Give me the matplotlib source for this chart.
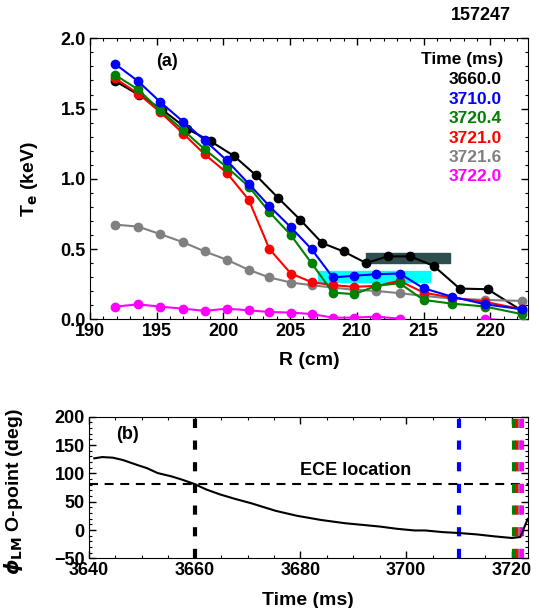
import matplotlib
matplotlib.use('Agg')
import matplotlib.pyplot as plt
from matplotlib.ticker import MultipleLocator, FormatStrFormatter
from matplotlib.patches import Rectangle

plt.rcParams['font.family'] = ['Liberation Sans', 'DejaVu Sans']
plt.rcParams['font.weight'] = 'bold'
plt.rcParams['axes.labelweight'] = 'bold'

# ---- panel (a): Te profiles ----
times = ['3660.0', '3710.0', '3720.4', '3721.0', '3721.6', '3722.0']
colors = ['black', 'blue', 'green', 'red', 'gray', 'magenta']

R_3660 = [191.9, 193.7, 195.4, 197.25, 199.05, 200.8, 202.45, 204.1, 205.75,
          207.4, 209.0, 210.7, 212.3, 214.0, 215.75, 217.7, 219.8, 222.4]
R_late = [191.9, 193.6, 195.25, 197.0, 198.6, 200.25, 201.9, 203.45, 205.05,
          206.6, 208.2, 209.8, 211.45, 213.2, 215.0, 217.1, 219.6, 222.4]

te_3660 = [1.695, 1.595, 1.493, 1.357, 1.267, 1.162, 1.024, 0.864, 0.709,
           0.543, 0.483, 0.40, 0.448, 0.448, 0.381, 0.219, 0.214, 0.06]
te_3710 = [1.816, 1.695, 1.548, 1.405, 1.274, 1.131, 0.964, 0.805, 0.655,
           0.50, 0.298, 0.31, 0.321, 0.326, 0.221, 0.162, 0.107, 0.071]
te_3720_4 = [1.738, 1.636, 1.488, 1.345, 1.21, 1.083, 0.945, 0.762, 0.60,
             0.40, 0.19, 0.179, 0.238, 0.257, 0.138, 0.112, 0.091, 0.036]
te_3721_0 = [1.714, 1.607, 1.476, 1.321, 1.174, 1.043, 0.85, 0.50, 0.326,
             0.265, 0.243, 0.231, 0.238, 0.274, 0.19, 0.155, 0.124, 0.071]
te_3721_6 = [0.674, 0.66, 0.607, 0.548, 0.483, 0.424, 0.352, 0.298, 0.262,
             0.243, 0.226, 0.21, 0.202, 0.186, 0.167, 0.148, 0.138, 0.131]
te_3722_0 = [0.09, 0.107, 0.09, 0.076, 0.06, 0.076, 0.064, 0.052, 0.048,
             0.038, 0.012, 0.012, 0.019, 0.005, -0.1, -0.1, 0.005, -0.02]

# island boxes (R range, Te range)
box_dark = (210.7, 217.0, 0.40, 0.47)
box_cyan = (207.05, 215.5, 0.266, 0.341)

# ---- panel (b): O-point phase ----
t_ms = [3641.0, 3642.5, 3644.5, 3646.4, 3649.1, 3651.0, 3653.0, 3655.6, 3657.6,
        3659.9, 3662.2, 3664.8, 3667.5, 3670.7, 3675.3, 3679.3, 3683.9, 3688.5,
        3691.8, 3695.0, 3698.3, 3701.6, 3703.6, 3706.9, 3710.1, 3713.4, 3716.7,
        3720.0, 3721.6, 3723.0]
phi_deg = [126.5, 128.8, 127.7, 123.6, 114.9, 109.1, 100.5, 94.7, 88.9,
           81.4, 71.5, 62.8, 55.3, 47.2, 33.9, 25.2, 17.7, 11.9,
           9.0, 6.1, 2.1, -0.8, -0.8, -3.7, -5.4, -7.8, -11.2,
           -14.1, -12.4, 19.4]
ece_phi = 81.4
t_marks = [3660.0, 3710.0, 3720.4, 3721.0, 3721.6, 3722.0]

fig = plt.figure(figsize=(5.42, 6.08), dpi=100)
ax1 = fig.add_axes([0.166, 0.4748, 0.8076, 0.4622])
ax2 = fig.add_axes([0.1642, 0.0817, 0.8094, 0.2329])

# boxes behind the profiles
for (r0, r1, t0, t1), c in [(box_dark, '#2f4f4f'), (box_cyan, '#00ffff')]:
    ax1.add_patch(Rectangle((r0, t0), r1 - r0, t1 - t0, color=c, zorder=1))

profiles = [(R_3660, te_3660, 'black'), (R_late, te_3721_6, 'gray'),
            (R_late, te_3722_0, 'magenta'), (R_late, te_3721_0, 'red'),
            (R_late, te_3720_4, 'green'), (R_late, te_3710, 'blue')]
for r, te, c in profiles:
    ax1.plot(r, te, '-o', color=c, lw=1.5, ms=6, mec=c, zorder=3)

ax1.set_xlim(190, 222.8)
ax1.set_ylim(0, 2.0)
ax1.xaxis.set_major_locator(MultipleLocator(5))
ax1.xaxis.set_minor_locator(MultipleLocator(1))
ax1.yaxis.set_major_locator(MultipleLocator(0.5))
ax1.yaxis.set_minor_locator(MultipleLocator(0.1))
ax1.yaxis.set_major_formatter(FormatStrFormatter('%.1f'))
ax1.set_xlabel('R (cm)', fontsize=14)
ax1.set_ylabel(r'T$_\mathbf{e}$ (keV)', fontsize=14)
ax1.xaxis.set_label_coords(0.5, -0.115)
ax1.yaxis.set_label_coords(-0.115, 0.5)

ax1.text(0.176, 0.916, '(a)', transform=ax1.transAxes, fontsize=13,
         ha='center', va='center')
ax1.text(0.9436, 0.9228, 'Time (ms)', transform=ax1.transAxes, fontsize=12.5,
         ha='right', va='center')
for i, (lab, c) in enumerate(zip(times, colors)):
    ax1.text(0.94, 0.852 - i * 0.069, lab, transform=ax1.transAxes,
             fontsize=12.5, color=c, ha='right', va='center')

fig.text(0.887, 0.974, '157247', fontsize=13, ha='center', va='center')

# panel (b)
ax2.plot(t_ms, phi_deg, color='black', lw=1.5, zorder=3)
ax2.axhline(ece_phi, color='black', lw=1.5, ls=(0, (4.3, 3.2)), zorder=2)
for t, c in zip(t_marks, colors):
    ax2.axvline(t, color=c, lw=3, ls=(0, (2.2, 3.0)), zorder=2)
ax2.text(3690.4, 104.5, 'ECE location', fontsize=13, ha='center', va='center')
ax2.text(0.087, 0.876, '(b)', transform=ax2.transAxes, fontsize=13,
         ha='center', va='center')

ax2.set_xlim(3640, 3723)
ax2.set_ylim(-50, 200)
ax2.xaxis.set_major_locator(MultipleLocator(20))
ax2.xaxis.set_minor_locator(MultipleLocator(5))
ax2.yaxis.set_major_locator(MultipleLocator(50))
ax2.yaxis.set_minor_locator(MultipleLocator(10))
ax2.set_xlabel('Time (ms)', fontsize=14)
ax2.set_ylabel(r'$\phi_{\mathbf{LM}}$ O-point (deg)', fontsize=14)
ax2.xaxis.set_label_coords(0.5, -0.24)
ax2.yaxis.set_label_coords(-0.145, 0.475)

for ax in (ax1, ax2):
    ax.tick_params(which='both', direction='in', top=True, right=True,
                   labelsize=13, pad=3)
    ax.tick_params(which='major', length=5, width=1)
    ax.tick_params(which='minor', length=2.5, width=0.8)
    for lab in ax.get_xticklabels() + ax.get_yticklabels():
        lab.set_fontweight('bold')

fig.savefig('out.png', dpi=100)
